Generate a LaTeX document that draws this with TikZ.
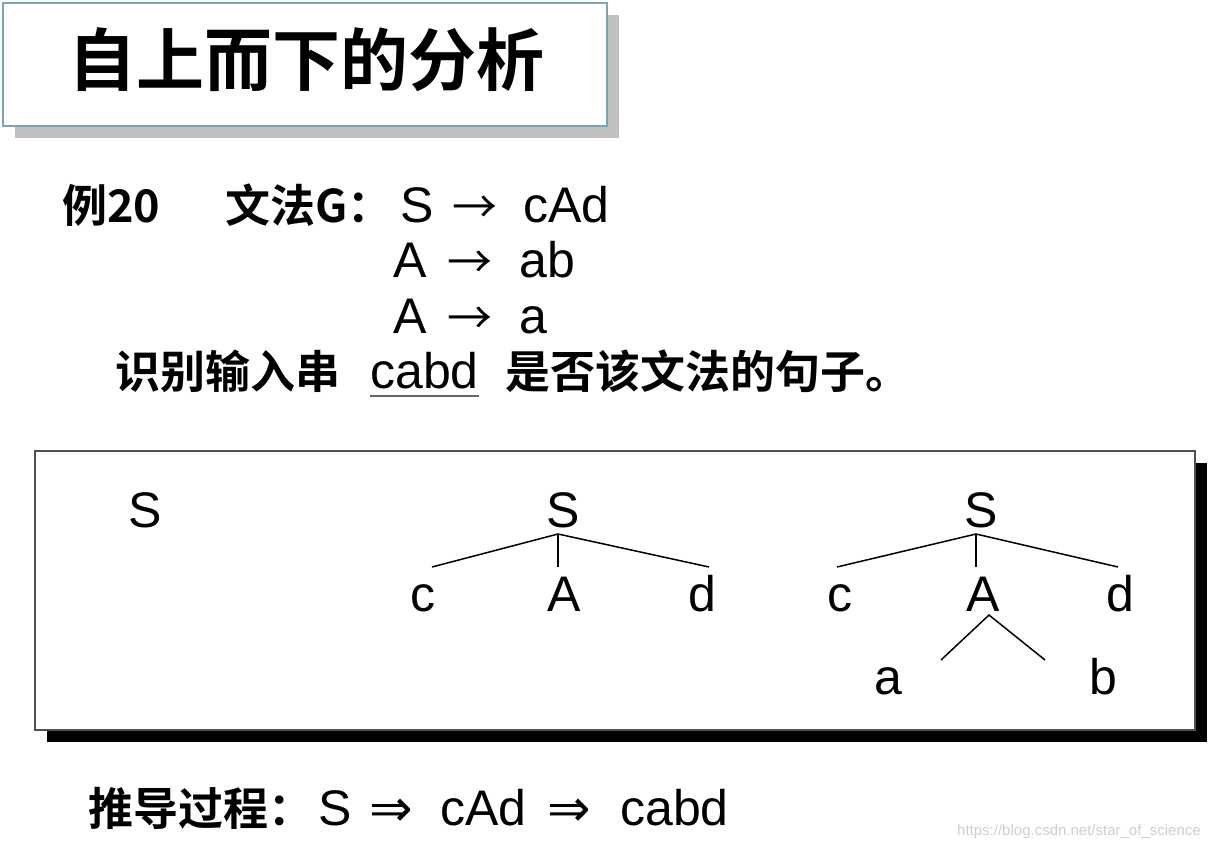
\documentclass[tikz,border=0pt]{standalone}
\usepackage{fontspec}
\setmainfont{Liberation Sans}
\newfontfamily\cjk{Noto Sans CJK SC Bold}
\newfontfamily\cjkr{Noto Sans CJK SC}
\newfontfamily\dvs{DejaVu Sans}
\definecolor{titleborder}{HTML}{7AA4BE}
\definecolor{titleshadow}{HTML}{BFBFBF}
\definecolor{boxborder}{HTML}{505050}
\definecolor{wm}{HTML}{CFCFCF}
\begin{document}
\begin{tikzpicture}[x=1pt,y=-1pt,
  lat/.style={inner sep=0pt,anchor=base west,font=\fontsize{50}{50}\selectfont},
  cj/.style={inner sep=0pt,anchor=base west,font=\fontsize{45}{45}\selectfont\cjk},
  arr/.style={inner sep=0pt,anchor=base west,font=\fontsize{45}{45}\selectfont\cjkr},
  darr/.style={inner sep=0pt,anchor=base west,font=\fontsize{52}{52}\selectfont\dvs},
  leaf/.style={inner sep=0pt,anchor=base,font=\fontsize{50}{50}\selectfont},
  edge/.style={line width=1.5pt,black}]
\useasboundingbox (0,0) rectangle (1222,848);
\fill[white] (0,0) rectangle (1222,848);
% title box
\fill[titleshadow] (15,15) rectangle (619,138);
\draw[titleborder,fill=white,line width=2pt] (3,3) rectangle (607,126);
\node[inner sep=0pt,font=\fontsize{68}{68}\selectfont\cjk] (title) at (306,60) {自上而下的分析};
% grammar
\node[cj] (ex) at (62,222) {例20};
\node[cj] (gram) at (225,222) {文法G：};
\node[lat] (s1) at (400,222) {S};
\node[arr] (a1) at (452,223) {→};
\node[lat] (r1) at (523,222) {cAd};
\node[lat] (s2) at (393,277) {A};
\node[arr] (a2) at (447,278) {→};
\node[lat] (r2) at (519,277) {ab};
\node[lat] (s3) at (393,333) {A};
\node[arr] (a3) at (447,334) {→};
\node[lat] (r3) at (519,333) {a};
\node[cj] (q1) at (115,388) {识别输入串};
\node[lat] (inp) at (370,388) {cabd};
\draw[line width=2.5pt,black!60] ([yshift=-8pt]inp.base west) -- ([yshift=-8pt]inp.base east);
\node[cj] (q2) at (505,388) {是否该文法的句子。};
% lower box
\fill[black] (47,463) rectangle (1207,742);
\draw[boxborder,fill=white,line width=1.5pt] (35,451) rectangle (1195,730);
% tree 1
\node[leaf] (t1s) at (145,527) {S};
% tree 2
\node[leaf] (t2s) at (563,527) {S};
\node[leaf] (t2c) at (423,611) {c};
\node[leaf] (t2a) at (564,611) {A};
\node[leaf] (t2d) at (702,611) {d};
\coordinate (t2top) at (558,534);
\coordinate (t2ce) at (432,567);
\coordinate (t2ae) at (558,567);
\coordinate (t2de) at (709,567);
\draw[edge] (t2ce) -- (t2top) -- (t2de);
\draw[edge] (t2top) -- (t2ae);
% tree 3
\node[leaf] (t3s) at (981,527) {S};
\node[leaf] (t3c) at (840,611) {c};
\node[leaf] (t3a) at (983,611) {A};
\node[leaf] (t3d) at (1120,611) {d};
\node[leaf] (t3x) at (888,694) {a};
\node[leaf] (t3y) at (1103,694) {b};
\coordinate (t3top) at (976,534);
\coordinate (t3ce) at (837,567);
\coordinate (t3ae) at (976,567);
\coordinate (t3de) at (1118,567);
\draw[edge] (t3ce) -- (t3top) -- (t3de);
\draw[edge] (t3top) -- (t3ae);
\coordinate (t3atop) at (989,615);
\coordinate (t3xe) at (941,660);
\coordinate (t3ye) at (1045,660);
\draw[edge] (t3xe) -- (t3atop) -- (t3ye);
% derivation
\node[cj] (d0) at (88,825) {推导过程：};
\node[lat] (d1) at (318,825) {S};
\node[darr] (d2) at (369,826) {⇒};
\node[lat] (d3) at (440,825) {cAd};
\node[darr] (d4) at (547,826) {⇒};
\node[lat] (d5) at (620,825) {cabd};
% watermark
\node[inner sep=0pt,anchor=base west,font=\fontsize{15}{15}\selectfont,text=wm] (wmk) at (957,835) {https://blog.csdn.net/star\_of\_science};
\end{tikzpicture}
\end{document}
